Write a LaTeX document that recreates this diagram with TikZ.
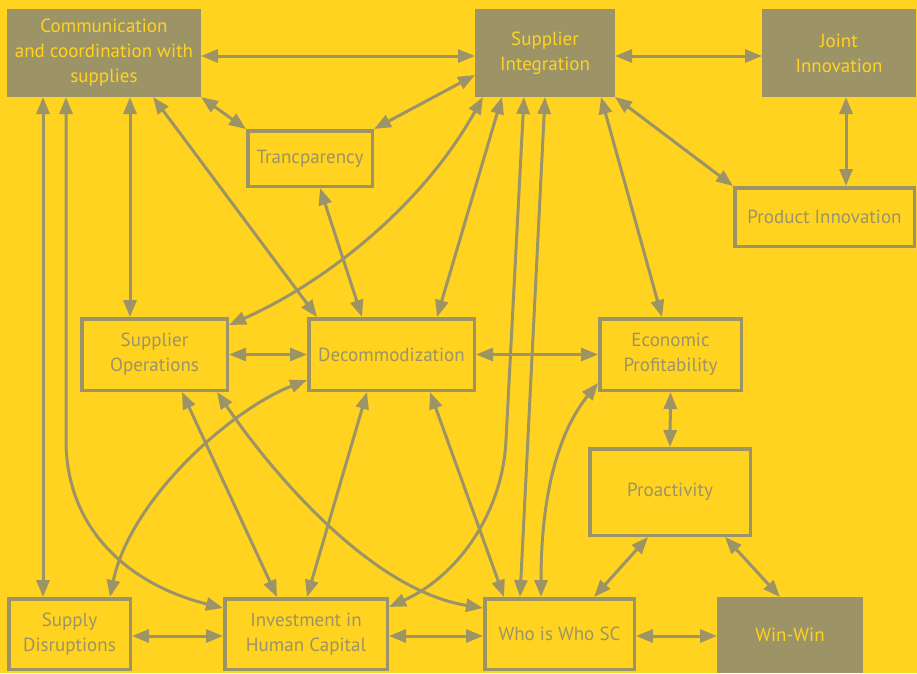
\documentclass[tikz,border=0pt]{standalone}
\usepackage{fontspec}
\setmainfont{PT Sans}
\usetikzlibrary{arrows.meta,calc}
\definecolor{bgyellow}{RGB}{255,211,32}
\definecolor{olivegray}{RGB}{156,148,102}

\begin{document}
\begin{tikzpicture}[x=1pt,y=-1pt,
  link/.style={draw=olivegray, line width=3pt,
    {Triangle[length=17pt,width=13pt]}-{Triangle[length=17pt,width=13pt]}},
  base/.style={inner sep=0pt, align=center, font=\fontsize{19}{25}\selectfont},
  fbox/.style={base, fill=olivegray, text=bgyellow, outer sep=0pt},
  obox/.style={base, draw=olivegray, line width=3.5pt, text=olivegray, outer sep=1.75pt},
]
% canvas
\fill[bgyellow] (0,0) rectangle (917,673);
\useasboundingbox (0,0) rectangle (917,673);

% filled boxes
\node[fbox, minimum width=194pt, minimum height=88pt] (comm) at (104,53)
  {Communication\\and coordination with\\supplies};
\node[fbox, minimum width=140pt, minimum height=88pt] (si) at (545,53)
  {Supplier\\Integration};
\node[fbox, minimum width=154pt, minimum height=88pt] (ji) at (839,53)
  {Joint\\Innovation};
\node[fbox, minimum width=146pt, minimum height=76pt] (win) at (790,635)
  {Win-Win};

% outlined boxes
\node[obox, minimum width=179.5pt, minimum height=58.5pt] (pi) at (824.5,217)
  {Product Innovation};
\node[obox, minimum width=124.5pt, minimum height=55.5pt] (tr) at (310,158.5)
  {Trancparency};
\node[obox, minimum width=145.5pt, minimum height=71.5pt] (so) at (154.5,354.5)
  {Supplier\\Operations};
\node[obox, minimum width=165.5pt, minimum height=71.5pt] (dc) at (391.5,354.5)
  {Decommodization};
\node[obox, minimum width=141.5pt, minimum height=71.5pt] (ep) at (670.5,354.5)
  {Economic\\Profitability};
\node[obox, minimum width=160.5pt, minimum height=86.5pt] (pr) at (670,492)
  {Proactivity};
\node[obox, minimum width=121.5pt, minimum height=70.5pt] (sd) at (69.5,634)
  {Supply\\Disruptions};
\node[obox, minimum width=162.5pt, minimum height=70.5pt] (ih) at (306,634)
  {Investment in\\Human Capital};
\node[obox, minimum width=149.5pt, minimum height=70.5pt] (ww) at (559.5,634)
  {Who is Who SC};

% top row
\draw[link] ([yshift=-3pt]comm.east) -- ([yshift=-3pt]si.west);
\draw[link] ([yshift=-3pt]si.east) -- ([yshift=-3pt]ji.west);
\draw[link] ($(ji.south)+(7,0)$) -- ($(pi.north)+(21.5,0)$);
\draw[link] (si.south east) -- (pi.north west);

% around Trancparency
\draw[link] (comm.south east) -- (tr.north west);
\draw[link] ($(si.north west)+(0,66)$) -- (tr.north east);
\draw[link] ($(tr.south west)+(74,0)$) -- ($(dc.north west)+(55,0)$);

% from Communication and coordination
\draw[link] ($(comm.south west)+(36,0)$) -- ($(sd.north west)+(36,0)$);
\draw[link] ($(comm.south west)+(59,0)$) -- (66,440)
  .. controls (66,530) and (130,585) .. ($(ih.north west)+(0,11)$);
\draw[link] ($(comm.south west)+(123,0)$) -- ($(so.north west)+(50,0)$);
\draw[link] ($(comm.south west)+(146,0)$) -- ($(dc.north west)+(10,0)$);

% from Supplier Integration
\draw[link] ($(si.south west)+(8,0)$)
  .. controls (420,210) and (320,285) .. ($(so.north east)+(0,8)$);
\draw[link] ($(si.south west)+(27,0)$) -- ($(dc.north west)+(130,0)$);
\draw[link] ($(si.south west)+(49,0)$) -- (506,440)
  .. controls (503,510) and (460,575) .. ($(ih.north east)+(0,10)$);
\draw[link] ($(si.south west)+(70,0)$) -- ($(ww.north west)+(37,0)$);
\draw[link] ($(si.south west)+(126,0)$) -- ($(ep.north west)+(64,0)$);

% middle row
\draw[link] (so.east) -- (dc.west);
\draw[link] (dc.east) -- (ep.west);
\draw[link] ($(so.south west)+(102,0)$) -- ($(ih.north west)+(54,0)$);
\draw[link] ($(so.south west)+(137,0)$)
  .. controls (270,470) and (370,590) .. ($(ww.north west)+(0,11)$);
\draw[link] ($(dc.south west)+(0,-12)$)
  .. controls (230,410) and (130,500) .. ($(sd.north west)+(103,0)$);
\draw[link] ($(dc.south west)+(60,0)$) -- ($(ih.north west)+(84,0)$);
\draw[link] ($(dc.south west)+(123,0)$) -- ($(ww.north west)+(21,0)$);
\draw[link] ($(ep.south west)+(0,-9)$)
  .. controls (560,430) and (541,490) .. ($(ww.north west)+(58,0)$);
\draw[link] (ep.south) -- (pr.north);

% Proactivity
\draw[link] ($(pr.south west)+(60,0)$) -- ($(ww.north west)+(111,0)$);
\draw[link] ($(pr.south west)+(137,0)$) -- ($(win.north west)+(63,0)$);

% bottom row, all at one height
\coordinate (sde) at ($(sd.east)+(0,2)$);
\coordinate (ihe) at ($(ih.east)+(0,2)$);
\coordinate (wwe) at ($(ww.east)+(0,2)$);
\draw[link] (sde) -- (sde -| ih.west);
\draw[link] (ihe) -- (ihe -| ww.west);
\draw[link] (wwe) -- (wwe -| win.west);
\end{tikzpicture}
\end{document}
